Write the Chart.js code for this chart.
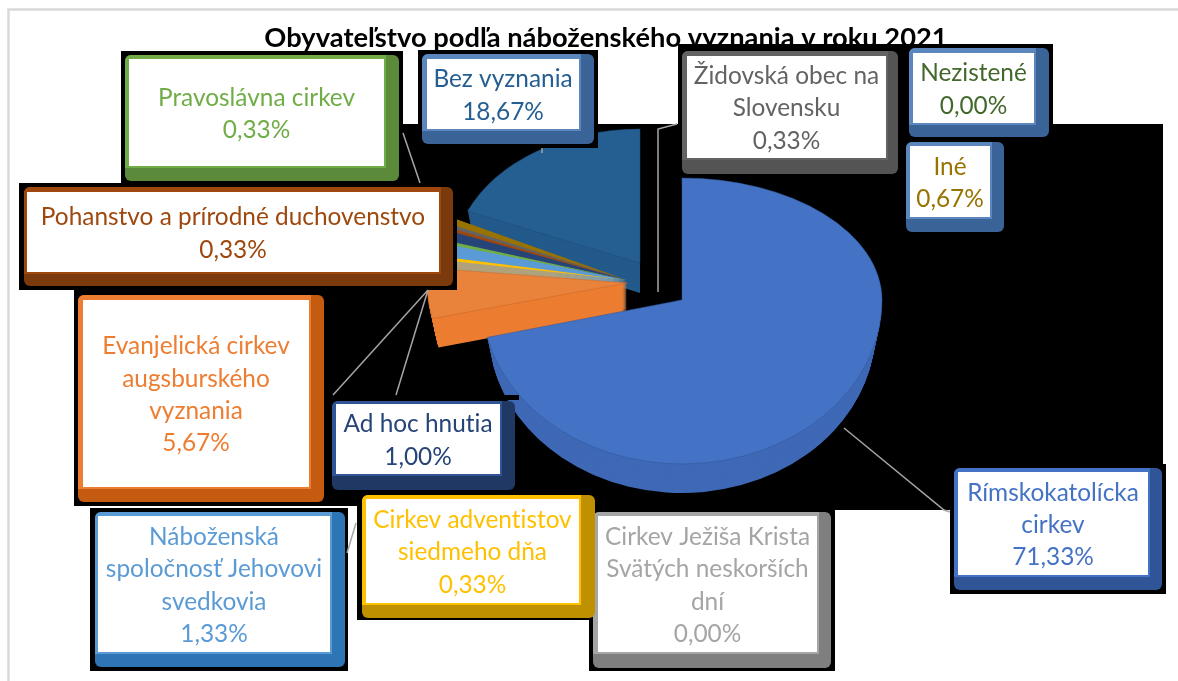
<!DOCTYPE html>
<html>
<head>
<meta charset="utf-8">
<title>Obyvateľstvo podľa náboženského vyznania</title>
<script src="https://cdn.jsdelivr.net/npm/chart.js@4"></script>
<style>
html, body { margin: 0; padding: 0; background: #fff; }
canvas { display: block; }
</style>
</head>
<body>
<canvas id="canvas" width="1178" height="681"></canvas>
<script>
var chartTitle = "Obyvateľstvo podľa náboženského vyznania v roku 2021";

var categoryLines = [
    ["Rímskokatolícka", "cirkev"],
    ["Evanjelická cirkev", "augsburského", "vyznania"],
    ["Cirkev Ježiša Krista", "Svätých neskorších", "dní"],
    ["Cirkev adventistov", "siedmeho dňa"],
    ["Náboženská", "spoločnosť Jehovovi", "svedkovia"],
    ["Pravoslávna cirkev"],
    ["Ad hoc hnutia"],
    ["Pohanstvo a prírodné duchovenstvo"],
    ["Židovská obec na", "Slovensku"],
    ["Iné"],
    ["Bez vyznania"],
    ["Nezistené"]
];
var shares = [71.33, 5.67, 0, 0.33, 1.33, 0.33, 1.00, 0.33, 0.33, 0.67, 18.67, 0];
var colors = ["#4472C4", "#ED7D31", "#A5A5A5", "#FFC000", "#5B9BD5", "#70AD47",
              "#264478", "#9E480E", "#636363", "#997300", "#255E91", "#43682B"];

// 3D look: explosion from the pie centre, squash above / below the apex, wall height
var pieCenter = {x: 682, y: 300};
var pieRadius = 200;
var frontView = {dx: 0, dy: 0, sx: 1, up: 0.61, lo: 0.82, depth: 29, side: "#3F69B6", line: "#33589C"};
var orangeView = {dx: -55, dy: -17, sx: 1, up: 0.6, lo: 0.78, depth: 29, side: "#EC7D31", line: "#C9682A", top: "#E9823A"};
var thinView = {dx: -55, dy: -20, sx: 1, up: 0.85, lo: 0.85, depth: 29};
var backView = {dx: -42, dy: -37, sx: 0.935, up: 0.67, lo: 0.67, depth: 30, side: "#235A8B", line: "#1D4D78"};
var sliceViews = [frontView, orangeView, thinView, thinView, thinView, thinView,
                  thinView, thinView, thinView, thinView, backView, backView];
var drawOrder = [11, 10, 9, 8, 7, 6, 5, 4, 3, 2, 1, 0];
var wallNarrowing = 0.032;

// label box: outer [x0, y0, x1, y1], inner white [x0, y0, x1, y1], border, shadow
var labelBoxes = [
    {outer: [954, 468, 1162, 590], inner: [958, 472, 1148, 575], border: "#4472C4", shadow: "#2F5597"},
    {outer: [78, 295, 324, 502], inner: [83, 300, 309, 487], border: "#ED7D31", shadow: "#C55A11"},
    {outer: [593, 512, 831, 668], inner: [598, 516, 817, 652], border: "#A5A5A5", shadow: "#7F7F7F"},
    {outer: [362, 495, 595, 618], inner: [366, 499, 579, 603], border: "#FFC000", shadow: "#BF9000"},
    {outer: [95, 512, 345, 667], inner: [98, 516, 330, 652], border: "#5B9BD5", shadow: "#2E75B6"},
    {outer: [125, 55, 399, 181], inner: [129, 59, 384, 166], border: "#70AD47", shadow: "#5B8A3A"},
    {outer: [332, 401, 515, 490], inner: [336, 404, 500, 474], border: "#2F5597", shadow: "#1F3864"},
    {outer: [24, 187, 453, 286], inner: [27, 192, 439, 272], border: "#9E480E", shadow: "#7B3A0B"},
    {outer: [682, 51, 898, 174], inner: [687, 56, 886, 158], border: "#636363", shadow: "#545454"},
    {outer: [906, 142, 1004, 232], inner: [910, 146, 990, 217], border: "#5B86BE", shadow: "#3A6497"},
    {outer: [422, 54, 594, 144], inner: [427, 59, 579, 129], border: "#5B86BE", shadow: "#3A6497"},
    {outer: [909, 48, 1049, 137], inner: [913, 53, 1034, 123], border: "#5B86BE", shadow: "#3A6497"}
];

// black boxes left behind the labels by the original export
var mainBlack = [[403, 124, 1163, 510], [74, 290, 403, 506]];
var labelBlack = [[121, 51, 403, 183], [19, 183, 457, 290], [418, 50, 598, 148],
                  [678, 44, 1053, 124], [319, 395, 519, 400], [90, 508, 348, 671],
                  [357, 492, 597, 620], [589, 510, 835, 671], [950, 464, 1166, 594]];

var leaders = [
    [[403, 133], [420, 183]],
    [[542, 148], [542, 153]],
    [[677, 124], [658, 129], [658, 292]],
    [[428, 290], [396, 395]],
    [[428, 290], [333, 395]],
    [[356, 523], [347, 553]],
    [[844, 428], [944, 510], [950, 512]]
];

var labelFont = "24.4px Lato";
var lineHeight = 32.3;

function fillRects(ctx, rects) {
    ctx.fillStyle = "#000";
    rects.forEach(function(r) {
        ctx.fillRect(r[0], r[1], r[2] - r[0], r[3] - r[1]);
    });
}

// draws one arc through the squashed view, upper and lower half separately
function drawSlice(ctx, el, view, lift, narrow) {
    var k = pieRadius / el.outerRadius;
    var ox = pieCenter.x + view.dx;
    var oy = pieCenter.y + view.dy + lift;
    [[0, oy + 0.3, view.up], [oy - 0.3, 681, view.lo]].forEach(function(h) {
        ctx.save();
        ctx.beginPath();
        ctx.rect(0, h[0], 1178, h[1] - h[0]);
        ctx.clip();
        ctx.translate(ox, oy);
        ctx.scale(k * view.sx * narrow, k * h[2]);
        ctx.translate(-el.x, -el.y);
        el.draw(ctx);
        ctx.restore();
    });
}

var piePlugin = {
    id: "pie3d",
    beforeDraw: function(chart) {
        var ctx = chart.ctx;
        ctx.fillStyle = "#fff";
        ctx.fillRect(0, 0, 1178, 681);
        ctx.strokeStyle = "#D9D9D9";
        ctx.lineWidth = 2.5;
        ctx.beginPath();
        ctx.moveTo(8.5, 681);
        ctx.lineTo(8.5, 9.5);
        ctx.lineTo(1178, 9.5);
        ctx.stroke();
    },
    beforeDatasetsDraw: function(chart) {
        fillRects(chart.ctx, mainBlack);
    },
    beforeDatasetDraw: function(chart) {
        var ctx = chart.ctx;
        var meta = chart.getDatasetMeta(0);
        drawOrder.forEach(function(i) {
            var el = meta.data[i];
            var view = sliceViews[i];
            var opts = el.options;
            var side = i === 3 ? "#B0A27C" : (view.side || colors[i]);
            el.options = Object.assign({}, opts, {backgroundColor: side, borderColor: side});
            for (var d = view.depth; d > 0; d--) {
                drawSlice(ctx, el, view, d, 1 - wallNarrowing * d / view.depth);
            }
            el.options = Object.assign({}, opts, {
                backgroundColor: view.top || colors[i],
                borderColor: view.line || colors[i],
                borderWidth: view.line ? 1 : 0
            });
            drawSlice(ctx, el, view, 0, 1);
            el.options = opts;
        });
        return false;
    },
    afterDatasetsDraw: function(chart) {
        var ctx = chart.ctx;
        fillRects(ctx, labelBlack);

        ctx.strokeStyle = "#A6A6A6";
        ctx.lineWidth = 1.5;
        leaders.forEach(function(line) {
            ctx.beginPath();
            line.forEach(function(p, n) {
                if (n === 0) ctx.moveTo(p[0], p[1]); else ctx.lineTo(p[0], p[1]);
            });
            ctx.stroke();
        });

        ctx.textRendering = "optimizeSpeed";
        labelBoxes.forEach(function(box, i) {
            var o = box.outer, w = box.inner;
            ctx.fillStyle = box.shadow;
            ctx.beginPath();
            ctx.roundRect(o[0], o[1], o[2] - o[0], o[3] - o[1], 6);
            ctx.fill();
            ctx.fillStyle = box.border;
            ctx.beginPath();
            ctx.roundRect(o[0], o[1], w[2] + 2 - o[0], w[3] + 2 - o[1], [6, 0, 0, 0]);
            ctx.fill();
            ctx.fillStyle = "#fff";
            ctx.fillRect(w[0], w[1], w[2] - w[0], w[3] - w[1]);

            var lines = categoryLines[i].concat(shares[i].toFixed(2).replace(".", ",") + "%");
            var cx = (w[0] + w[2]) / 2;
            var top = (w[1] + w[3]) / 2 - (lines.length - 1) * lineHeight / 2 + 1.5;
            ctx.fillStyle = colors[i];
            ctx.font = labelFont;
            ctx.textAlign = "center";
            ctx.textBaseline = "middle";
            lines.forEach(function(text, n) {
                ctx.fillText(text, cx, top + n * lineHeight);
            });
        });
    }
};

var chart = new Chart(document.getElementById("canvas"), {
    type: "pie",
    plugins: [piePlugin],
    data: {
        labels: categoryLines.map(function(l) { return l.join(" "); }),
        datasets: [{
            data: shares,
            backgroundColor: colors,
            borderColor: colors,
            borderWidth: 0
        }]
    },
    options: {
        responsive: false,
        animation: false,
        layout: {padding: {left: 34, top: 22, right: 0, bottom: 0}},
        plugins: {
            legend: {display: false},
            tooltip: {enabled: false},
            title: {
                display: true,
                text: chartTitle,
                color: "#000",
                font: {family: "Lato", size: 27.3, weight: "bold"},
                padding: 0
            }
        }
    }
});
</script>
</body>
</html>
